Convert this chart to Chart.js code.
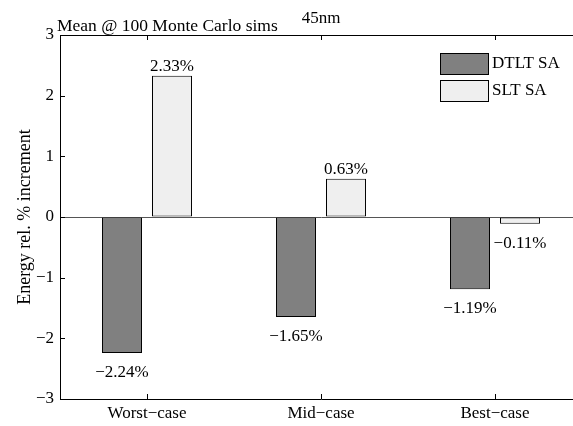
<!DOCTYPE html>
<html>
<head>
<meta charset="utf-8">
<script src="https://cdn.jsdelivr.net/npm/chart.js@4/dist/chart.umd.min.js"></script>
<style>
  html, body { margin: 0; padding: 0; background: #fff; overflow: hidden; }
  #wrap { width: 600px; height: 426px; }
</style>
</head>
<body>
<div id="wrap"><canvas id="grafico" width="600" height="426"></canvas></div>
<script>
// Datos
const casos = ["Worst\u2212case", "Mid\u2212case", "Best\u2212case"]; // Categorías
const dtltSA = [-2.24, -1.65, -1.19]; // Serie DTLT SA (%)
const sltSA = [2.33, 0.63, -0.11];    // Serie SLT SA (%)
const ticksY = [-3, -2, -1, 0, 1, 2, 3]; // Marcas del eje Y

const fuente = "'Liberation Serif', 'Times New Roman', serif";
const menos = (s) => String(s).replace('-', '\u2212');

// Textos de arriba, etiquetas de valor, marcas interiores y leyenda
const extras = {
    id: 'extras',
    afterDraw(chart) {
        const ctx = chart.ctx;
        const area = chart.chartArea;
        const x = chart.scales.x;
        const y = chart.scales.y;
        ctx.save();
        ctx.strokeStyle = '#000';
        ctx.lineWidth = 1;

        // Línea superior de la caja
        ctx.beginPath();
        ctx.moveTo(area.left, area.top + 0.5);
        ctx.lineTo(area.right, area.top + 0.5);
        ctx.stroke();

        // Marcas hacia dentro
        ctx.beginPath();
        for (const v of ticksY) {
            const py = Math.round(y.getPixelForValue(v)) + 0.5;
            ctx.moveTo(area.left, py);
            ctx.lineTo(area.left + 5, py);
        }
        for (let i = 0; i < casos.length; i++) {
            const px = Math.round(x.getPixelForValue(i)) + 0.5;
            ctx.moveTo(px, area.bottom);
            ctx.lineTo(px, area.bottom - 5);
            ctx.moveTo(px, area.top);
            ctx.lineTo(px, area.top + 5);
        }
        ctx.stroke();

        // Etiquetas de valor
        ctx.fillStyle = '#000';
        ctx.font = '17px ' + fuente;
        ctx.textAlign = 'center';
        ctx.textBaseline = 'alphabetic';
        chart.data.datasets.forEach((ds, d) => {
            const meta = chart.getDatasetMeta(d);
            meta.data.forEach((bar, i) => {
                const v = ds.data[i];
                const txt = menos(v.toFixed(2)) + '%';
                const py = v >= 0 ? bar.y - 5 : bar.y + 24;
                ctx.fillText(txt, bar.x, py);
            });
        });

        // Títulos
        ctx.textAlign = 'center';
        ctx.font = '17px ' + fuente;
        ctx.fillText('45nm', (area.left + area.right) / 2, 23);
        ctx.textAlign = 'left';
        ctx.font = '17.5px ' + fuente;
        ctx.fillText('Mean @ 100 Monte Carlo sims', 57, 31);

        // Leyenda
        ctx.font = '17px ' + fuente;
        ctx.textBaseline = 'middle';
        chart.data.datasets.forEach((ds, d) => {
            const top = 53 + d * 27;
            ctx.fillStyle = ds.backgroundColor;
            ctx.fillRect(440.5, top + 0.5, 48, 21);
            ctx.strokeRect(440.5, top + 0.5, 48, 21);
            ctx.fillStyle = '#000';
            ctx.fillText(ds.label, 492, top + 11);
        });
        ctx.restore();
    }
};

const ctx = document.getElementById('grafico');

new Chart(ctx, {
    type: 'bar',
    data: {
        labels: casos,
        datasets: [{
            label: 'DTLT SA',
            data: dtltSA,
            backgroundColor: '#808080',
            borderColor: '#000',
            borderWidth: 1,
            borderSkipped: false
        }, {
            label: 'SLT SA',
            data: sltSA,
            backgroundColor: '#efefef',
            borderColor: '#000',
            borderWidth: 1,
            borderSkipped: false
        }]
    },
    options: {
        responsive: false,
        animation: false,
        devicePixelRatio: 1,
        categoryPercentage: 0.575,
        barPercentage: 0.8,
        layout: { padding: { top: 35, right: 18, left: 0, bottom: 0 } },
        plugins: {
            legend: { display: false },
            tooltip: { enabled: false }
        },
        scales: {
            x: {
                grid: { display: false, drawTicks: false },
                border: { display: true, color: '#000', width: 1 },
                ticks: { color: '#000', font: { family: fuente, size: 17 }, padding: 4 },
                afterFit: (s) => { s.height = 27; }
            },
            y: {
                min: -3,
                max: 3,
                afterBuildTicks: (s) => { s.ticks = ticksY.map(v => ({ value: v })); },
                grid: {
                    drawTicks: false,
                    color: (c) => c.tick && c.tick.value === 0 ? '#555' : 'transparent'
                },
                border: { display: true, color: '#000', width: 1 },
                ticks: {
                    color: '#000',
                    font: { family: fuente, size: 17 },
                    padding: 6,
                    callback: (v) => menos(v)
                },
                title: {
                    display: true,
                    text: 'Energy rel. % increment',
                    color: '#000',
                    font: { family: fuente, size: 18 },
                    padding: { top: 14, bottom: 0 }
                },
                afterFit: (s) => { s.width = 60; }
            }
        }
    },
    plugins: [extras]
});
</script>
</body>
</html>
